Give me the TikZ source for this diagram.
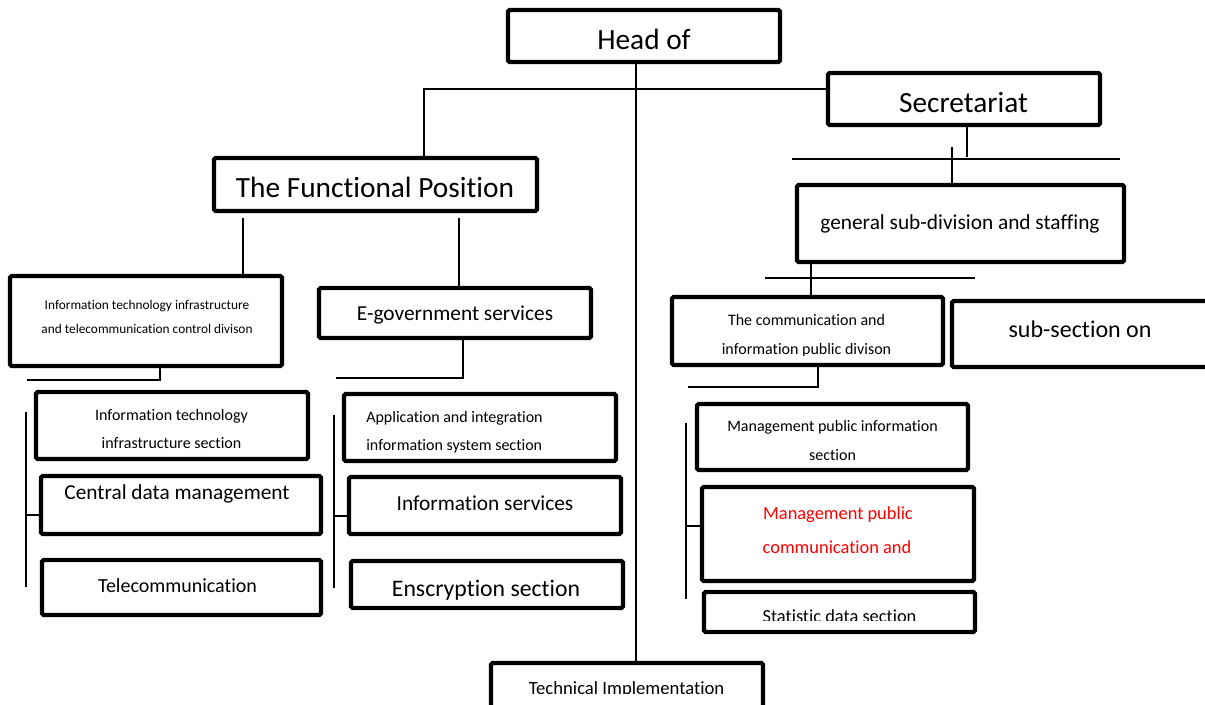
\documentclass[tikz,border=0pt]{standalone}
\usepackage{fontspec}
\setmainfont{Carlito}[Ligatures={NoCommon}]
\usetikzlibrary{fit}
\begin{document}
\begin{tikzpicture}[x=0.75pt,y=-0.75pt,
  box/.style={draw, line width=3.2pt, rounded corners=1.2pt, inner sep=0pt},
  ln/.style={line width=1.3pt},
  txt/.style={font=\fontsize{#1}{#1}\selectfont, inner sep=0pt, anchor=base},
  redtxt/.style={txt=#1, text={rgb,255:red,255;green,0;blue,0}}
]
\useasboundingbox (0,0) rectangle (1205,704);
\clip (0,0) rectangle (1205,704);

% boxes
\node[box, fit={(508,10) (780,62)}] (head) {};
\node[box, fit={(214,158) (537,211)}] (func) {};
\node[box, fit={(828,73) (1100,125)}] (sec) {};
\node[box, fit={(797,185) (1124,262)}] (gen) {};
\node[box, fit={(10,276) (282,366)}] (itdiv) {};
\node[box, fit={(319,288) (591,338)}] (egov) {};
\node[box, fit={(36,392) (308,459)}] (itsec) {};
\node[box, fit={(41,476) (321,534)}] (cdm) {};
\node[box, fit={(42,560) (321,615)}] (tel) {};
\node[box, fit={(344,394) (616,461)}] (app) {};
\node[box, fit={(349,477) (621,534)}] (isv) {};
\node[box, fit={(351,561) (623,608)}] (enc) {};
\node[box, fit={(672,297) (943,365)}] (comm) {};
\node[box, fit={(952,301) (1240,367)}] (subs) {};
\node[box, fit={(697,404) (968,470)}] (mpi) {};
\node[box, fit={(702,487) (974,581)}] (red) {};
\node[box, fit={(704,592) (975,632)}] (stat) {};
\node[box, fit={(491,663) (763,740)}] (tech) {};

% texts
\node[txt=22] (headT) at (644,49) {Head of};
\node[txt=22] (funcT) at (375,197) {The Functional Position};
\node[txt=22] (secT) at (963.5,112) {Secretariat};
\node[txt=16] (genT) at (960,229) {general sub-division and staffing};
\node[txt=10] (itdivA) at (147,309) {Information technology infrastructure};
\node[txt=10] (itdivB) at (147,333) {and telecommunication control divison};
\node[txt=16] (egovT) at (455,320) {E-government services};
\node[txt=12] (itsecA) at (171.5,420) {Information technology};
\node[txt=12] (itsecB) at (171.5,448) {infrastructure section};
\node[txt=16] (cdmT) at (177,499) {Central data management};
\node[txt=15] (telT) at (177.5,592) {Telecommunication};
\node[txt=12, anchor=base west] (appA) at (366,422) {Application and integration};
\begin{scope}
  \clip (340,430) rectangle (620,452);
  \node[txt=12, anchor=base west] (appB) at (366,450) {information system section};
\end{scope}
\node[txt=16] (isvT) at (485,510) {Information services};
\node[txt=17.8] (encT) at (486,596) {Enscryption section};
\node[txt=12] (commA) at (806.5,325) {The communication and};
\begin{scope}
  \clip (670,330) rectangle (945,355);
  \node[txt=12] (commB) at (806.5,354) {information public divison};
\end{scope}
\node[txt=18] (subsT) at (1080,337) {sub-section on};
\node[txt=12] (mpiA) at (832.5,431) {Management public information};
\node[txt=12] (mpiB) at (832.5,460) {section};
\node[redtxt=13.8] (redA) at (838,519) {Management public};
\node[redtxt=13.8] (redB) at (837,553) {communication and};
\begin{scope}
  \clip (700,595) rectangle (980,620);
  \node[txt=13.8] (statT) at (839.5,622.5) {Statistic data section};
\end{scope}
\begin{scope}
  \clip (490,665) rectangle (765,693);
  \node[txt=14] (techT) at (626.5,694) {Technical Implementation};
\end{scope}

% connectors
\coordinate (trunk) at (636,0);
\draw[ln] (trunk |- head.south) -- (trunk |- tech.north);
\coordinate (jL) at (424,89);
\draw[ln] (jL |- func.north) -- (jL) -- (jL -| sec.west);
\coordinate (sD) at (967,157);
\draw[ln] (sD |- sec.south) -- (sD);
\coordinate (barA) at (792,159);
\coordinate (barB) at (1120,159);
\draw[ln] (barA) -- (barB);
\coordinate (gU) at (952,147);
\draw[ln] (gU) -- (gU |- gen.north);
\coordinate (gD) at (811,0);
\draw[ln] (gD |- gen.south) -- (gD |- comm.north);
\coordinate (barC) at (765,278);
\coordinate (barD) at (975,278);
\draw[ln] (barC) -- (barD);
\coordinate (cD) at (818,387);
\coordinate (cL) at (688,387);
\draw[ln] (cD |- comm.south) -- (cD) -- (cL);
\coordinate (rT) at (686,423);
\coordinate (rB) at (686,599);
\coordinate (rM) at (686,526);
\draw[ln] (rT) -- (rB);
\draw[ln] (rM) -- (rM -| red.west);
\coordinate (fL) at (243,218);
\draw[ln] (fL) -- (fL |- itdiv.north);
\coordinate (fR) at (459,218);
\draw[ln] (fR) -- (fR |- egov.north);
\coordinate (iD) at (160,381);
\coordinate (iL) at (27,380);
\draw[ln] (iD |- itdiv.south) -- (iD);
\draw[ln] (iL) -- (iL -| iD);
\coordinate (lT) at (26,412);
\coordinate (lB) at (26,587);
\coordinate (lM) at (26,515);
\draw[ln] (lT) -- (lB);
\draw[ln] (lM) -- (lM -| cdm.west);
\coordinate (eD) at (463,378);
\coordinate (eL) at (336,378);
\draw[ln] (eD |- egov.south) -- (eD) -- (eL);
\coordinate (mT) at (334,415);
\coordinate (mB) at (334,588);
\coordinate (mM) at (334,516);
\draw[ln] (mT) -- (mB);
\draw[ln] (mM) -- (mM -| isv.west);
\end{tikzpicture}
\end{document}
